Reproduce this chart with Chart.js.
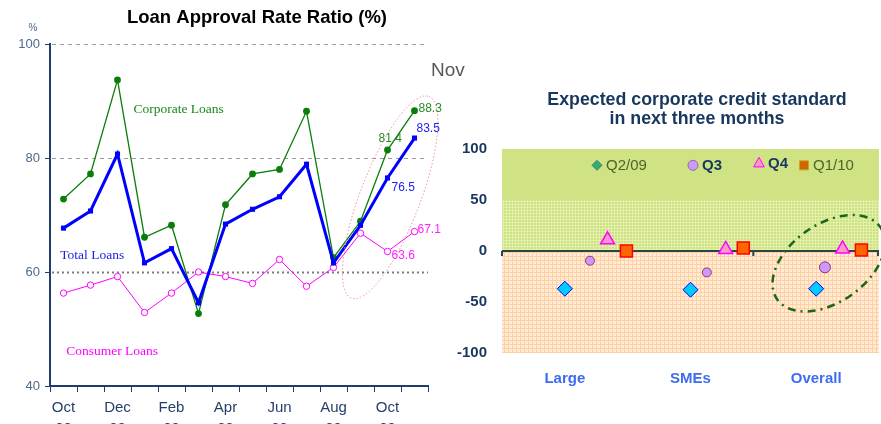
<!DOCTYPE html>
<html>
<head>
<meta charset="utf-8">
<script src="https://cdn.jsdelivr.net/npm/chart.js@4.4.1/dist/chart.umd.min.js"></script>
<style>
  body { margin: 0; width: 881px; height: 424px; overflow: hidden; background: #fff; position: relative; }
  #loans { position: absolute; left: 0; top: 0; }
  #outlook { position: absolute; left: 440px; top: 0; }
</style>
</head>
<body>
<canvas id="loans" width="480" height="424"></canvas>
<canvas id="outlook" width="441" height="424"></canvas>
<script>
// Left: loan approval rate ratio, Oct 08 - Nov 09
const MONTHS    = ["Oct", "Nov", "Dec", "Jan", "Feb", "Mar", "Apr", "May", "Jun", "Jul", "Aug", "Sep", "Oct", "Nov"];
const YEARS     = ["08", "08", "08", "09", "09", "09", "09", "09", "09", "09", "09", "09", "09", "09"];
const CORPORATE = [72.8, 77.2, 93.7, 66.1, 68.2, 52.7, 71.8, 77.2, 78.0, 88.2, 62.5, 68.9, 81.4, 88.3];
const TOTAL     = [67.7, 70.7, 80.7, 61.6, 64.1, 54.6, 68.4, 71.0, 73.2, 78.9, 61.6, 68.2, 76.5, 83.5];
const CONSUMER  = [56.3, 57.7, 59.2, 52.9, 56.3, 60.0, 59.2, 58.0, 62.2, 57.5, 60.8, 66.8, 63.6, 67.1];
const RATE_TICKS = [40, 60, 80, 100];

// Right: expected corporate credit standard (diffusion index)
const SEGMENTS = ["Large", "SMEs", "Overall"];
const Q2_09 = [-37, -38, -37];
const Q3    = [-9.5, -21, -16];
const Q4    = [11, 1.5, 2];
const Q1_10 = [0, 3, 1];
const STANDARD_TICKS = [-100, -50, 0, 50, 100];

// horizontal placement of each quarter inside its segment (category units)
const SLOT = {
  q2: [0, 0, 0],
  q3: [0.2, 0.13, 0.07],
  q4: [0.34, 0.28, 0.21],
  q1: [0.49, 0.42, 0.36],
};

const NAVY = "#1f3c6e";
const FONT = "Arial, 'Liberation Sans', sans-serif";

// ─── Left chart ─────────────────────────────────────────────────────────────

const NOTES = [
  { text: "Corporate Loans", at: [2.59, 88.6], color: "#178a17" },
  { text: "Total Loans",     at: [-0.12, 62.9], color: "#2020e0" },
  { text: "Consumer Loans",  at: [0.1, 46.0],  color: "#ff00ff" },
];

const VALUE_TAGS = [
  { series: CORPORATE, i: 13, dx: 4,  dy: -2,  color: "#2a8a2a" },
  { series: CORPORATE, i: 12, dx: -9, dy: -11, color: "#2a8a2a" },
  { series: TOTAL,     i: 13, dx: 2,  dy: -9,  color: "#2222ee" },
  { series: TOTAL,     i: 12, dx: 4,  dy: 10,  color: "#2222ee" },
  { series: CONSUMER,  i: 13, dx: 3,  dy: -2,  color: "#ff22ff" },
  { series: CONSUMER,  i: 12, dx: 4,  dy: 4,   color: "#ff22ff" },
];

const loanDecor = {
  id: "loanDecor",
  beforeDatasetsDraw(chart) {
    const { ctx, chartArea: a, scales: { y } } = chart;
    ctx.save();
    [[100, "#9a9a9a", [4, 4], 1], [80, "#9a9a9a", [4, 4], 1], [60, "#7a7a7a", [2, 3], 2]].forEach(([v, c, d, w]) => {
      const py = Math.round(y.getPixelForValue(v)) + 0.5;
      ctx.strokeStyle = c;
      ctx.lineWidth = w;
      ctx.setLineDash(d);
      ctx.beginPath();
      ctx.moveTo(a.left + 2, py);
      ctx.lineTo(a.right, py);
      ctx.stroke();
    });
    ctx.restore();
  },
  afterDatasetsDraw(chart) {
    const { ctx, chartArea: a, scales: { x, y } } = chart;
    ctx.save();

    // highlight around the latest readings
    ctx.strokeStyle = "#f08c8c";
    ctx.lineWidth = 1;
    ctx.setLineDash([1.5, 2]);
    ctx.beginPath();
    ctx.ellipse(x.getPixelForValue(12.1), y.getPixelForValue(73.1), 108, 30, -69 * Math.PI / 180, 0, Math.PI * 2);
    ctx.stroke();
    ctx.setLineDash([]);

    ctx.textBaseline = "middle";
    ctx.textAlign = "left";
    ctx.font = "13.5px 'Liberation Serif', 'Times New Roman', serif";
    NOTES.forEach((n) => {
      ctx.fillStyle = n.color;
      ctx.fillText(n.text, x.getPixelForValue(n.at[0]), y.getPixelForValue(n.at[1]));
    });

    ctx.font = "12px " + FONT;
    VALUE_TAGS.forEach((t) => {
      const v = t.series[t.i];
      ctx.fillStyle = t.color;
      ctx.fillText(v.toFixed(1), x.getPixelForValue(t.i) + t.dx, y.getPixelForValue(v) + t.dy);
    });

    ctx.fillStyle = "#595959";
    ctx.font = "19px " + FONT;
    ctx.fillText("Nov", a.right + 3, 71);
    ctx.restore();
  },
  afterDraw(chart) {
    const { ctx } = chart;
    ctx.save();
    ctx.fillStyle = "#000";
    ctx.textAlign = "center";
    ctx.textBaseline = "middle";
    ctx.font = "bold 18.5px " + FONT;
    ctx.fillText("Loan Approval Rate Ratio (%)", 257, 18);
    ctx.fillStyle = "#4e6a8e";
    ctx.font = "10px " + FONT;
    ctx.fillText("%", 33, 28);
    ctx.restore();
  },
};

new Chart(document.getElementById("loans"), {
  type: "line",
  data: {
    labels: MONTHS,
    datasets: [
      {
        label: "Total Loans", data: TOTAL,
        borderColor: "#0000ff", backgroundColor: "#0000ff", borderWidth: 3,
        pointStyle: "rect", pointRadius: 3.6, pointBorderWidth: 0,
      },
      {
        label: "Corporate Loans", data: CORPORATE,
        borderColor: "#0a7d0a", backgroundColor: "#0a7d0a", borderWidth: 1.3,
        pointStyle: "circle", pointRadius: 3.4, pointBorderWidth: 0,
      },
      {
        label: "Consumer Loans", data: CONSUMER,
        borderColor: "#ff00ff", backgroundColor: "#ffffff", borderWidth: 1,
        pointStyle: "circle", pointRadius: 3.2, pointBorderWidth: 1,
      },
    ],
  },
  options: {
    responsive: false,
    animation: false,
    events: [],
    layout: { autoPadding: false, padding: { top: 44, right: 52, left: 0, bottom: 0 } },
    plugins: { legend: { display: false }, tooltip: { enabled: false } },
    scales: {
      x: {
        offset: true,
        grid: { offset: true, drawOnChartArea: false, drawTicks: true, tickLength: 6, color: NAVY },
        border: { color: NAVY, width: 2 },
        ticks: {
          autoSkip: false, maxRotation: 0, padding: 6,
          color: "#243f6b", font: { family: FONT, size: 15, lineHeight: 1.35 },
          callback: (v, i) => (i % 2 === 0 ? [MONTHS[i], YEARS[i]] : ""),
        },
        afterFit: (s) => { s.height = 38; },
      },
      y: {
        min: 40, max: 100,
        afterBuildTicks: (s) => { s.ticks = RATE_TICKS.map((v) => ({ value: v })); },
        grid: { drawOnChartArea: false, drawTicks: true, tickLength: 5, color: NAVY },
        border: { color: NAVY, width: 2 },
        ticks: { color: "#4e6a8e", padding: 5, font: { family: FONT, size: 13 } },
        afterFit: (s) => { s.width = 50; },
      },
    },
  },
  plugins: [loanDecor],
});

// ─── Right chart ────────────────────────────────────────────────────────────

function checker(base, line, cell) {
  const c = document.createElement("canvas");
  c.width = c.height = cell;
  const g = c.getContext("2d");
  g.fillStyle = base;
  g.fillRect(0, 0, cell, cell);
  g.fillStyle = line;
  g.fillRect(0, 0, cell, 1);
  g.fillRect(0, 0, 1, cell);
  return c;
}

function points(values, slot) {
  return values.map((v, i) => ({ x: i + slot[i], y: v }));
}

const LEGEND = [
  { text: "Q2/09", dx: 95,  shape: "diamond",  fill: "#3aa87a", stroke: "#2f8a62", color: "#4f6228", bold: false },
  { text: "Q3",    dx: 191, shape: "circle",   fill: "#cc99ff", stroke: "#996699", color: "#17375e", bold: true },
  { text: "Q4",    dx: 257, shape: "triangle", fill: "#ff99cc", stroke: "#ff00ff", color: "#17375e", bold: true, lift: -2 },
  { text: "Q1/10", dx: 302, shape: "square",   fill: "#cc6600", stroke: "#d4a017", color: "#4f6228", bold: false },
];

function shape(ctx, kind, x, y, r) {
  ctx.beginPath();
  if (kind === "diamond") {
    ctx.moveTo(x, y - r); ctx.lineTo(x + r, y); ctx.lineTo(x, y + r); ctx.lineTo(x - r, y); ctx.closePath();
  } else if (kind === "circle") {
    ctx.arc(x, y, r, 0, Math.PI * 2);
  } else if (kind === "triangle") {
    ctx.moveTo(x, y - r); ctx.lineTo(x + r * 0.87, y + r * 0.6); ctx.lineTo(x - r * 0.87, y + r * 0.6); ctx.closePath();
  } else {
    ctx.rect(x - r, y - r, r * 2, r * 2);
  }
  ctx.fill();
  ctx.stroke();
}

const outlookDecor = {
  id: "outlookDecor",
  beforeDatasetsDraw(chart) {
    const { ctx, chartArea: a, scales: { x, y } } = chart;
    const y100 = y.getPixelForValue(100), y50 = y.getPixelForValue(50);
    const y0 = y.getPixelForValue(0), yMin = y.getPixelForValue(-100);
    ctx.save();
    ctx.fillStyle = "#cfe384";
    ctx.fillRect(a.left, y100, a.width, y50 - y100);
    ctx.fillStyle = ctx.createPattern(checker("#cbe183", "#e3f0aa", 3), "repeat");
    ctx.fillRect(a.left, y50, a.width, y0 - y50);
    ctx.fillStyle = ctx.createPattern(checker("#ffebd8", "#ffd0a2", 4), "repeat");
    ctx.fillRect(a.left, y0, a.width, yMin - y0);

    // zero line with small boundary ticks
    ctx.strokeStyle = "#2b4545";
    ctx.lineWidth = 2;
    ctx.beginPath();
    ctx.moveTo(a.left, y0);
    ctx.lineTo(a.right, y0);
    [-0.5, 0.5, 1.5, 2.5].forEach((b) => {
      const px = Math.min(x.getPixelForValue(b), a.right - 1);
      ctx.moveTo(px, y0);
      ctx.lineTo(px, y0 + 5);
    });
    ctx.stroke();

    // legend inside the plot
    const ly = y.getPixelForValue(84);
    LEGEND.forEach((l) => {
      const px = a.left + l.dx;
      ctx.fillStyle = l.fill;
      ctx.strokeStyle = l.stroke;
      ctx.lineWidth = 1;
      const r = l.shape === "triangle" ? 6 : l.shape === "square" ? 4.5 : 5;
      shape(ctx, l.shape, px, ly + (l.lift || 0), r);
      ctx.fillStyle = l.color;
      ctx.font = (l.bold ? "bold " : "") + "15px " + FONT;
      ctx.textAlign = "left";
      ctx.textBaseline = "middle";
      ctx.fillText(l.text, px + 9, ly + 1 + (l.lift || 0));
    });
    ctx.restore();
  },
  afterDatasetsDraw(chart) {
    const { ctx, scales: { x, y } } = chart;
    ctx.save();
    ctx.strokeStyle = "#1a661a";
    ctx.lineWidth = 2.5;
    ctx.setLineDash([8, 5, 2, 5]);
    ctx.beginPath();
    ctx.ellipse(x.getPixelForValue(2.1), y.getPixelForValue(-12), 63, 39, -35 * Math.PI / 180, 0, Math.PI * 2);
    ctx.stroke();
    ctx.restore();
  },
  afterDraw(chart) {
    const { ctx } = chart;
    ctx.save();
    ctx.fillStyle = "#17375e";
    ctx.textAlign = "center";
    ctx.textBaseline = "middle";
    ctx.font = "bold 17.8px " + FONT;
    ctx.fillText("Expected corporate credit standard", 257, 100);
    ctx.fillText("in next three months", 257, 119);
    ctx.restore();
  },
};

new Chart(document.getElementById("outlook"), {
  type: "scatter",
  data: {
    datasets: [
      {
        label: "Q2/09", data: points(Q2_09, SLOT.q2),
        pointStyle: "rectRot", pointRadius: 7.5,
        backgroundColor: "#00ccff", borderColor: "#0000ff", borderWidth: 1,
      },
      {
        label: "Q3", data: points(Q3, SLOT.q3),
        pointStyle: "circle", pointRadius: [4.5, 4.5, 5.5],
        backgroundColor: "#cc99ff", borderColor: "#993366", borderWidth: 1,
      },
      {
        label: "Q4", data: points(Q4, SLOT.q4),
        pointStyle: "triangle", pointRadius: 8,
        backgroundColor: "#ff99cc", borderColor: "#ff00ff", borderWidth: 1.5,
      },
      {
        label: "Q1/10", data: points(Q1_10, SLOT.q1),
        pointStyle: "rect", pointRadius: 8.5,
        backgroundColor: "#ff6600", borderColor: "#ff0000", borderWidth: 1.5,
      },
    ],
  },
  options: {
    responsive: false,
    animation: false,
    events: [],
    clip: false,
    layout: { autoPadding: false, padding: { top: 149, right: 2, left: 0, bottom: 0 } },
    plugins: { legend: { display: false }, tooltip: { enabled: false } },
    scales: {
      x: {
        type: "linear", min: -0.5, max: 2.5,
        afterBuildTicks: (s) => { s.ticks = SEGMENTS.map((_, i) => ({ value: i })); },
        grid: { display: false, drawTicks: false },
        border: { display: false },
        ticks: {
          padding: 17, color: "#3d6cf0",
          font: { family: FONT, size: 15, weight: "bold" },
          callback: (v) => SEGMENTS[v],
        },
        afterFit: (s) => { s.height = 71; s.paddingLeft = 0; s.paddingRight = 0; },
      },
      y: {
        min: -100, max: 100,
        afterBuildTicks: (s) => { s.ticks = STANDARD_TICKS.map((v) => ({ value: v })); },
        grid: { display: false, drawTicks: false },
        border: { display: false },
        ticks: { padding: 15, color: "#17375e", font: { family: FONT, size: 15, weight: "bold" } },
        afterFit: (s) => { s.width = 62; s.paddingTop = 0; s.paddingBottom = 0; },
      },
    },
  },
  plugins: [outlookDecor],
});
</script>
</body>
</html>
